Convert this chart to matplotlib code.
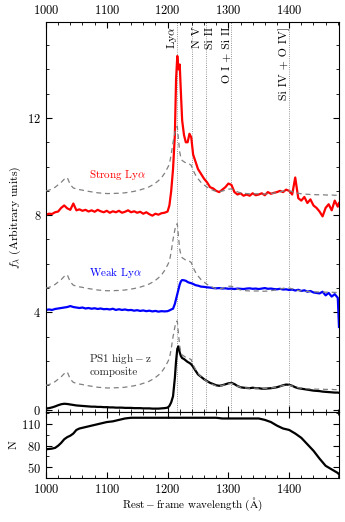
import numpy as np
import matplotlib
matplotlib.use('Agg')
import matplotlib.pyplot as plt
from matplotlib.ticker import MultipleLocator

plt.rcParams['font.family'] = 'cmr10'
plt.rcParams['mathtext.fontset'] = 'cm'
plt.rcParams['axes.formatter.use_mathtext'] = True

# Rest-frame wavelength grid (Angstrom)
wave = [1000, 1005, 1010, 1015, 1020, 1025, 1030, 1035, 1040, 1045,
        1050, 1055, 1060, 1065, 1070, 1075, 1080, 1085, 1090, 1095,
        1100, 1105, 1110, 1115, 1120, 1125, 1130, 1135, 1140, 1145,
        1150, 1155, 1160, 1165, 1170, 1175, 1180, 1185, 1190, 1195,
        1200, 1203, 1206, 1209, 1212, 1214, 1216, 1218, 1220, 1222, 1224, 1227, 1230,
        1233, 1236, 1239, 1242, 1246, 1250, 1255,
        1260, 1265, 1270, 1275, 1280, 1285, 1290, 1295,
        1300, 1305, 1310, 1315, 1320, 1325, 1330, 1335, 1340, 1345,
        1350, 1355, 1360, 1365, 1370, 1375, 1380, 1385, 1390, 1395,
        1400, 1405, 1410, 1415, 1420, 1425, 1430, 1435, 1440, 1445,
        1450, 1455, 1460, 1465, 1470, 1475, 1480, 1482]

# PS1 high-z composite
composite = [0.04, 0.06, 0.09, 0.13, 0.18, 0.22, 0.24, 0.23, 0.21, 0.19,
             0.17, 0.16, 0.15, 0.14, 0.13, 0.12, 0.12, 0.11, 0.11, 0.10,
             0.10, 0.09, 0.09, 0.08, 0.08, 0.08, 0.07, 0.07, 0.07, 0.06,
             0.06, 0.06, 0.05, 0.05, 0.05, 0.04, 0.04, 0.04, 0.05, 0.06,
             0.08, 0.15, 0.30, 0.55, 1.30, 2.00, 2.50, 2.60, 2.35, 2.20, 2.12, 2.08, 2.02,
             1.96, 1.92, 1.86, 1.76, 1.60, 1.45, 1.35,
             1.25, 1.17, 1.10, 1.05, 1.00, 0.98, 1.00, 1.04,
             1.08, 1.10, 1.05, 0.97, 0.92, 0.90, 0.89, 0.88, 0.90, 0.88,
             0.88, 0.86, 0.86, 0.87, 0.88, 0.90, 0.92, 0.96, 1.00, 1.03,
             1.02, 0.98, 0.92, 0.88, 0.86, 0.84, 0.82, 0.80, 0.78, 0.77,
             0.76, 0.74, 0.73, 0.72, 0.71, 0.70, 0.70, 0.69]

# Strong Lya subsample
strong = [0.02, 0.06, 0.05, 0.12, 0.15, 0.30, 0.40, 0.28, 0.22, 0.48,
          0.20, 0.24, 0.18, 0.22, 0.15, 0.20, 0.14, 0.22, 0.16, 0.12,
          0.18, 0.10, 0.16, 0.12, 0.18, 0.10, 0.14, 0.20, 0.12, 0.16,
          0.10, 0.14, 0.06, 0.12, 0.04, -0.02, 0.06, 0.02, 0.08, 0.10,
          0.15, 0.40, 1.00, 1.90, 3.30, 5.60, 6.55, 6.00, 6.20, 5.00, 3.90, 3.30, 3.00,
          3.00, 3.35, 3.20, 2.50, 2.20, 1.90, 1.70,
          1.50, 1.35, 1.15, 1.10, 1.00, 0.95, 1.05, 1.15,
          1.30, 1.25, 0.95, 0.85, 0.90, 0.80, 0.85, 0.80, 0.90, 0.82,
          0.85, 0.90, 0.82, 0.95, 0.88, 0.92, 0.95, 1.00, 0.95, 1.05,
          1.00, 0.85, 1.55, 0.70, 0.60, 0.75, 0.50, 0.65, 0.40, 0.30,
          0.15, -0.05, 0.30, 0.45, 0.20, 0.60, 0.35, 0.50]

# Weak Lya subsample
weak = [0.10, 0.12, 0.10, 0.14, 0.16, 0.18, 0.20, 0.22, 0.26, 0.22,
        0.20, 0.18, 0.20, 0.16, 0.18, 0.15, 0.17, 0.14, 0.16, 0.13,
        0.14, 0.12, 0.15, 0.10, 0.13, 0.10, 0.12, 0.09, 0.10, 0.07,
        0.09, 0.06, 0.08, 0.05, 0.07, 0.04, 0.06, 0.03, 0.05, 0.04,
        0.05, 0.08, 0.12, 0.15, 0.35, 0.55, 0.75, 0.95, 1.15, 1.28, 1.33, 1.32, 1.30,
        1.25, 1.22, 1.20, 1.17, 1.12, 1.10, 1.06,
        1.05, 1.03, 1.02, 1.00, 0.99, 1.00, 0.98, 0.99,
        0.97, 0.98, 0.96, 0.98, 0.97, 0.96, 0.98, 0.99, 0.97, 0.98,
        0.96, 0.98, 1.00, 0.97, 0.98, 0.96, 0.95, 0.97, 0.94, 0.95,
        0.92, 0.94, 0.90, 0.93, 0.88, 0.91, 0.85, 0.88, 0.82, 0.80,
        0.78, 0.85, 0.70, 0.80, 0.65, 0.75, 0.60, -0.60]

# low-z reference composite (dashed)
template = [1.00, 1.03, 1.08, 1.15, 1.25, 1.35, 1.48, 1.55, 1.25, 1.12,
            1.08, 1.05, 1.03, 1.00, 0.98, 0.96, 0.94, 0.92, 0.91, 0.90,
            0.89, 0.89, 0.89, 0.90, 0.90, 0.91, 0.92, 0.94, 0.96, 0.98,
            1.01, 1.04, 1.08, 1.12, 1.17, 1.24, 1.32, 1.42, 1.54, 1.72,
            1.95, 2.10, 2.50, 3.00, 3.40, 3.60, 3.65, 3.10, 2.60, 2.35, 2.25, 2.20, 2.15,
            2.12, 2.10, 2.05, 1.85, 1.65, 1.50, 1.35,
            1.25, 1.15, 1.08, 1.02, 0.98, 0.97, 0.99, 1.03,
            1.07, 1.08, 1.03, 0.96, 0.92, 0.90, 0.89, 0.88, 0.88, 0.88,
            0.88, 0.87, 0.87, 0.88, 0.89, 0.91, 0.93, 0.96, 0.99, 1.01,
            1.00, 0.97, 0.93, 0.90, 0.88, 0.87, 0.86, 0.85, 0.85, 0.84,
            0.84, 0.84, 0.83, 0.83, 0.83, 0.82, 0.82, 0.82]

# number of spectra contributing
n_wave = [1000, 1010, 1015, 1020, 1025, 1030, 1035, 1040, 1045, 1050, 1055, 1060,
          1070, 1080, 1090, 1100, 1110, 1120, 1130, 1140, 1150, 1200, 1250, 1280,
          1290, 1300, 1340, 1350, 1360, 1370, 1380, 1390, 1400, 1410, 1420, 1430,
          1440, 1450, 1460, 1470, 1480, 1482]
n_spec = [75, 76, 77, 80, 84, 89, 92, 94, 97, 102, 104, 105,
          107, 109, 111, 113, 114, 116, 118, 119, 119, 119, 119, 119,
          118, 118, 118, 118, 116, 113, 108, 104, 102, 97, 91, 82,
          73, 62, 52, 47, 42, 40]

line_waves = [1215.67, 1240.0, 1262.6, 1305.0, 1400.0]
line_names = [r'Ly$\alpha$', 'N V', 'Si II', 'O I + Si II', 'Si IV + O IV]']
line_side = [-1, 1, 1, -1, -1]

wave = np.array(wave)
fig = plt.figure(figsize=(3.45, 5.22), dpi=100)
ax = fig.add_axes([0.1333, 0.2107, 0.8493, 0.7472])
ax2 = fig.add_axes([0.1333, 0.0843, 0.8493, 0.1264], sharex=ax)

spectra = [(composite, 0, 'black'), (weak, 4, 'blue'), (strong, 8, 'red')]
for flux, off, col in spectra:
    ax.plot(wave, np.array(flux) + off, color=col, lw=1.6, zorder=2)
    ax.plot(wave, np.array(template) + off, color='0.5', lw=0.9,
            ls=(0, (4, 3)), zorder=3)

for w, name, side in zip(line_waves, line_names, line_side):
    ax.axvline(w, color='0.45', lw=0.6, ls=':', zorder=1)
    ax.text(w + side * 8, 0.988, name, rotation=90, ha='center', va='top',
            fontsize=8.5, transform=ax.get_xaxis_transform())

ax.text(1071, 9.65, r'Strong Ly$\alpha$', color='red', fontsize=8, va='center')
ax.text(1071, 5.63, r'Weak Ly$\alpha$', color='blue', fontsize=8, va='center')
ax.text(1071, 1.85, r'$\mathrm{PS1\ high-z}$' + '\n' + 'composite',
        color='0.15', fontsize=8, va='center', linespacing=1.1)

ax.set_xlim(1000, 1482)
ax.set_ylim(-0.1, 15.95)
ax.yaxis.set_major_locator(MultipleLocator(4))
ax.yaxis.set_minor_locator(MultipleLocator(1))
ax.xaxis.set_major_locator(MultipleLocator(100))
ax.xaxis.set_minor_locator(MultipleLocator(20))
ax.set_ylabel(r'$f_\lambda\ \mathrm{(Arbitrary\ units)}$', fontsize=8.5, labelpad=3)
ax.tick_params(which='both', direction='in', top=True, right=True,
               labeltop=True, labelbottom=False, labelsize=9)
ax.tick_params(which='major', length=4)
ax.tick_params(which='minor', length=2)

ax2.plot(n_wave, n_spec, color='black', lw=1.6)
ax2.set_ylim(35, 127)
ax2.yaxis.set_major_locator(MultipleLocator(30, offset=20))
ax2.yaxis.set_minor_locator(MultipleLocator(15, offset=5))
ax2.set_ylabel('N', fontsize=8.5, labelpad=2)
ax2.set_xlabel(r'$\mathrm{Rest-frame\ wavelength\ (\AA)}$', fontsize=8, labelpad=0)
ax2.tick_params(which='both', direction='in', top=True, right=True, labelsize=9)
ax2.tick_params(which='major', length=4)
ax2.tick_params(which='minor', length=2)

fig.savefig('out.png', dpi=100)
